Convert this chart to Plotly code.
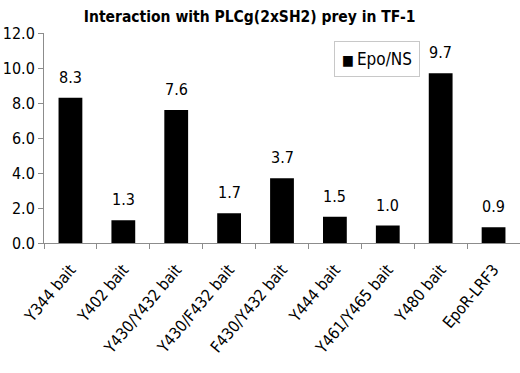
import plotly.graph_objects as go

categories = ["Y344 bait", "Y402 bait", "Y430/Y432 bait", "Y430/F432 bait",
              "F430/Y432 bait", "Y444 bait", "Y461/Y465 bait", "Y480 bait", "EpoR-LRF3"]
values = [8.3, 1.3, 7.6, 1.7, 3.7, 1.5, 1.0, 9.7, 0.9]
y_ticks = [0, 2, 4, 6, 8, 10, 12]
series_name = "Epo/NS"
title_text = "Interaction with PLCg(2xSH2) prey in TF-1"

FONT = "Liberation Sans Narrow, DejaVu Sans Condensed, Arial Narrow, Liberation Sans, sans-serif"

fig = go.Figure()
fig.add_trace(go.Bar(
    x=categories, y=values, name=series_name,
    marker=dict(color="black", line=dict(width=0)),
    showlegend=False,
))
for c, v in zip(categories, values):
    fig.add_annotation(x=c, y=v, text=f"{v:.1f}", showarrow=False,
                       yanchor="bottom", yshift=9,
                       font=dict(family=FONT, size=16, color="black"))

# legend box (compact, like the original)
fig.add_annotation(xref="paper", yref="paper", x=0.609, y=0.962,
                   xanchor="left", yanchor="top", showarrow=False,
                   text="<span style='font-size:14px'>■</span>\u2009" + series_name,
                   font=dict(family=FONT, size=17, color="black"),
                   bordercolor="#c8c8c8", borderwidth=1, borderpad=7, bgcolor="white")

fig.update_layout(
    width=520, height=373,
    margin=dict(l=44, r=0, t=33, b=130),
    paper_bgcolor="white", plot_bgcolor="white",
    bargap=0.55,
    title=dict(text=f"<b>{title_text}</b>", x=0.48, xanchor="center", y=0.955, yanchor="middle",
               font=dict(family=FONT, size=15.5, color="black")),
    font=dict(family=FONT, color="black"),
)
fig.update_yaxes(range=[0, 12], tickvals=y_ticks, ticktext=[f"{t:.1f}" for t in y_ticks],
                 showline=True, linecolor="#8c8c8c", linewidth=1,
                 ticks="outside", ticklen=5, tickcolor="#8c8c8c",
                 showgrid=False, zeroline=False, automargin=False,
                 tickfont=dict(family=FONT, size=16, color="black"))
fig.update_xaxes(showline=True, linecolor="#8c8c8c", linewidth=1,
                 ticks="outside", ticklen=5, tickcolor="#8c8c8c", tickson="boundaries",
                 tickangle=-50, showgrid=False, automargin=False, ticklabelstandoff=10,
                 tickfont=dict(family=FONT, size=16, color="black"))

fig.write_html("out.html", config={"displayModeBar": False},
               post_script="document.body.style.margin='0';")
